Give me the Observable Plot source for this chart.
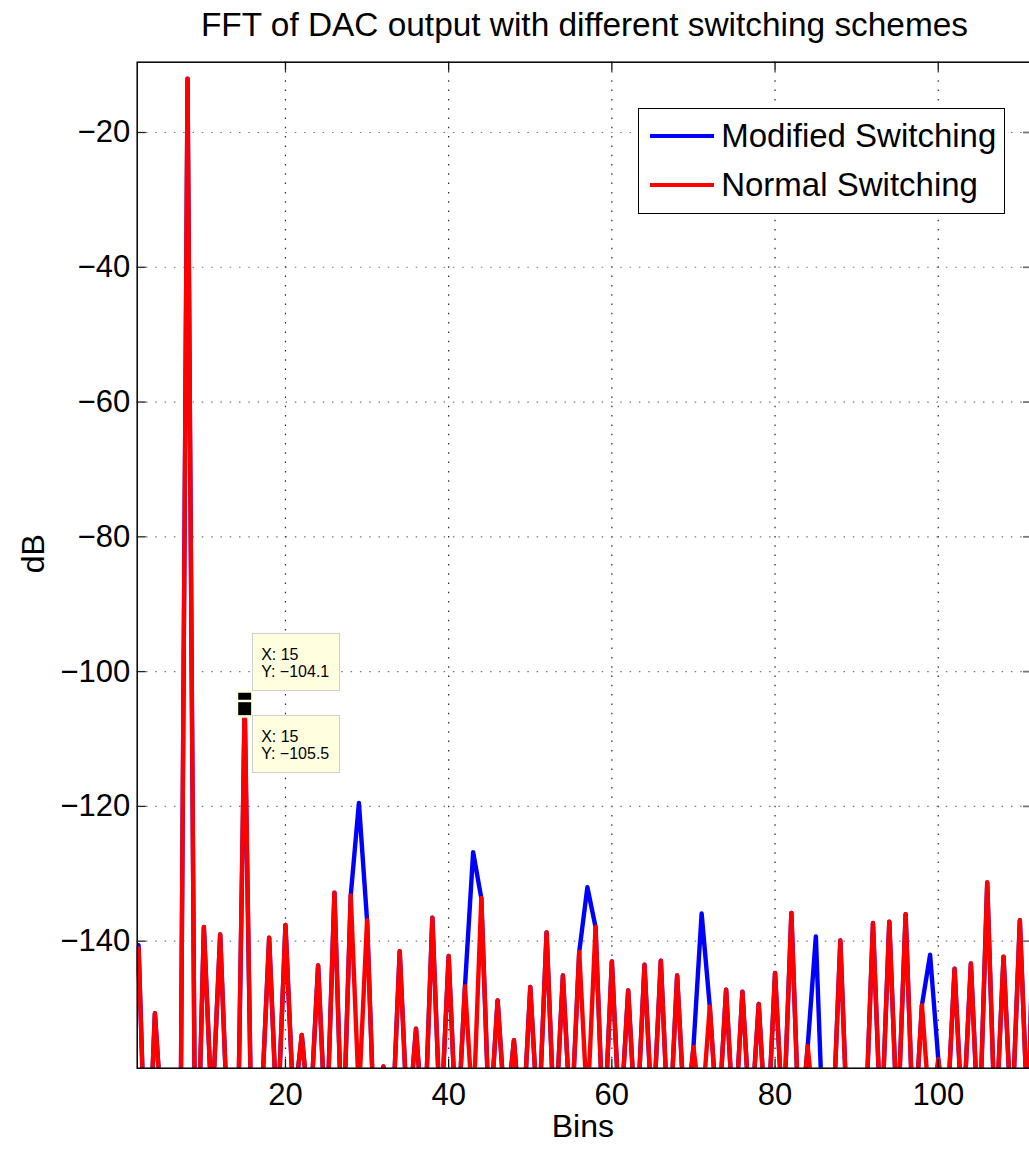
<!DOCTYPE html>
<html>
<head>
<meta charset="utf-8">
<script src="https://cdn.jsdelivr.net/npm/d3@7"></script>
<script src="https://cdn.jsdelivr.net/npm/@observablehq/plot@0.6"></script>
<style>
  html, body { margin: 0; padding: 0; background: #fff; overflow: hidden; }
  body { width: 1029px; height: 1149px; position: relative; font-family: "Liberation Sans", Arial, Helvetica, sans-serif; color: #000; }
  #title { position: absolute; top: 4.6px; left: 137px; width: 895px; height: 40px; line-height: 40px; font-size: 33.4px; text-align: center; white-space: nowrap; }
  #chart { position: absolute; top: 45px; left: 0; width: 1034px; }
  #chart svg { max-width: none !important; }
  .legend { position: absolute; left: 637.7px; top: 107.7px; width: 367.3px; height: 106.6px; box-sizing: border-box; border: 1.5px solid #000; background: #fff; }
  .legend .sw { position: absolute; left: 11.5px; width: 64px; height: 4px; }
  .legend .lt { position: absolute; left: 82.5px; font-size: 33px; line-height: 40px; white-space: nowrap; }
  .tipbox { position: absolute; width: 88px; box-sizing: border-box; background: #ffffe0; border: 1px solid #cfcfcf; font-size: 16px; line-height: 17px; padding: 12px 8px 10px 8px; white-space: nowrap; }
</style>
</head>
<body>
<div id="title">FFT of DAC output with different switching schemes</div>
<div id="chart"></div>
<script>
// ---- data ----
const bins = d3.range(1, 113);
const normalSwitching = [
  -150, -141.0, -180, -150.7, -169, -172, -195, -12.0, -185, -137.9,
  -166, -139.0, -170, -182, -104.1, -182, -166, -139.5, -168, -137.6,
  -165, -153.9, -167, -143.6, -170, -132.8, -172, -133.2, -163, -136.9,
  -172, -158.6, -170, -141.5, -168, -153.0, -170, -136.5, -168, -142.2,
  -170, -146.7, -166, -133.6, -168, -148.8, -167, -154.7, -170, -146.8,
  -168, -138.7, -169, -145.1, -168, -141.6, -165, -137.9, -170, -143.0,
  -168, -147.3, -169, -143.5, -168, -142.9, -170, -145.1, -168, -155.7,
  -166, -149.7, -168, -147.2, -169, -147.5, -168, -149.3, -170, -144.7,
  -168, -135.8, -170, -155.6, -168, -172, -170, -139.9, -172, -175,
  -170, -137.3, -169, -137.1, -168, -136.0, -170, -149.5, -166, -157.5,
  -168, -144.1, -168, -143.3, -170, -131.3, -169, -142.3, -168, -136.9,
  -168, -118
];
const modifiedSwitching = [
  -149, -140.6, -180, -150.7, -169, -172, -195, -12.0, -185, -137.9,
  -166, -139.0, -170, -182, -105.5, -182, -166, -139.5, -168, -137.6,
  -165, -153.9, -167, -143.6, -170, -132.8, -172, -133.2, -119.5, -136.9,
  -172, -158.6, -170, -141.5, -168, -153.0, -170, -136.5, -168, -142.2,
  -170, -146.7, -126.8, -133.6, -168, -148.8, -167, -154.7, -170, -146.8,
  -168, -138.7, -169, -145.1, -168, -141.6, -132.0, -137.9, -170, -143.0,
  -168, -147.3, -169, -143.5, -168, -142.9, -170, -145.1, -168, -155.7,
  -135.9, -149.7, -168, -147.2, -169, -147.5, -168, -149.3, -170, -144.7,
  -168, -135.8, -170, -155.6, -139.3, -172, -170, -139.9, -172, -175,
  -170, -137.3, -169, -137.1, -168, -136.0, -170, -149.5, -142.0, -157.5,
  -168, -144.1, -168, -143.3, -170, -131.3, -169, -142.3, -168, -136.9,
  -168, -118
];
const seriesNames = ["Modified Switching", "Normal Switching"];
const seriesColors = ["#0000ff", "#ff0000"];
const xTicks = [20, 40, 60, 80, 100];
const yTicks = [-140, -120, -100, -80, -60, -40, -20];
const xDomain = [1.83, 111.55];
const yDomain = [-158.85, -9.57];
const tipBin = [15, 15];
const tipValue = [-104.1, -105.5];

// ---- build ----
const rows = bins.map((b, i) => ({bin: b, modified: modifiedSwitching[i], normal: normalSwitching[i]}));
const tips = tipBin.map((b, i) => ({bin: b, value: tipValue[i]}));

const W = 1034, H = 1104, mL = 136.7, mR = 2, mT = 16.7, mB = 81.3;
const innerW = W - mL - mR, innerH = H - mT - mB;
const tickLen = 9;

const plot = Plot.plot({
  width: W, height: H,
  marginLeft: mL, marginRight: mR, marginTop: mT, marginBottom: mB,
  style: {fontFamily: '"Liberation Sans", Arial, Helvetica, sans-serif', fontSize: "31px", color: "#000", background: "transparent", overflow: "visible", maxWidth: "none"},
  x: {domain: xDomain, label: null},
  y: {domain: yDomain, label: null},
  marks: [
    Plot.gridX(xTicks, {stroke: "#000", strokeOpacity: 0.85, strokeWidth: 1.2, strokeDasharray: "1.5,7.8"}),
    Plot.gridY(yTicks, {stroke: "#777", strokeOpacity: 1, strokeWidth: 1.2, strokeDasharray: "1.5,7.8"}),
    Plot.line(rows, {x: "bin", y: "modified", stroke: seriesColors[0], strokeWidth: 4.4, strokeLinejoin: "round", strokeLinecap: "round", clip: true}),
    Plot.line(rows, {x: "bin", y: "normal", stroke: seriesColors[1], strokeWidth: 4.4, strokeLinejoin: "round", strokeLinecap: "round", clip: true}),
    Plot.frame({stroke: "#000", strokeWidth: 1.5}),
    Plot.tickY(yTicks, {y: d => d, insetRight: innerW - tickLen, stroke: "#222", strokeWidth: 1.3}),
    Plot.tickY(yTicks, {y: d => d, insetLeft: innerW - tickLen, stroke: "#777", strokeWidth: 1.8}),
    Plot.tickX(xTicks, {x: d => d, insetTop: innerH - tickLen, stroke: "#111", strokeWidth: 1.3}),
    Plot.tickX(xTicks, {x: d => d, insetBottom: innerH - tickLen, stroke: "#111", strokeWidth: 1.3}),
    Plot.axisX(xTicks, {tickSize: 0, tickPadding: 15, fontSize: 31, label: null}),
    Plot.axisY(yTicks, {tickSize: 0, tickPadding: 7, fontSize: 31, label: null}),
    Plot.dot(tips, {x: "bin", y: "value", symbol: "square", r: 7.3, fill: "#000", stroke: "#ffffe0", strokeWidth: 5, paintOrder: "stroke"}),
    Plot.text(["dB"], {frameAnchor: "left", dx: -103.7, dy: 8, rotate: -90, fontSize: 32, fill: "#000"}),
    Plot.text(["Bins"], {frameAnchor: "bottom", dx: -2, dy: 59, lineAnchor: "middle", fontSize: 32, fill: "#000"})
  ]
});
const chart = document.getElementById("chart");
chart.appendChild(plot);

// ---- data tips (positioned from the plot's scales) ----
const sx = plot.scale("x"), sy = plot.scale("y");
const top0 = 45;
tips.forEach((t, i) => {
  const div = document.createElement("div");
  div.className = "tipbox";
  div.innerHTML = `X: ${t.bin}<br>Y: ${d3.format(".1f")(t.value).replace("-", "\u2013")}`;
  const px = sx.apply(t.bin), py = sy.apply(t.value) + top0;
  div.style.left = (px + 8) + "px";
  document.body.appendChild(div);
  if (i === 0) {
    div.style.top = (py - 8 - div.offsetHeight) + "px";
  } else {
    div.style.top = (py + 7) + "px";
  }
});

// ---- legend ----
const legend = document.createElement("div");
legend.className = "legend";
seriesNames.forEach((name, i) => {
  const sw = document.createElement("div");
  sw.className = "sw";
  sw.style.background = seriesColors[i];
  sw.style.top = (25.5 + i * 49.3) + "px";
  legend.appendChild(sw);
  const lt = document.createElement("div");
  lt.className = "lt";
  lt.textContent = name;
  lt.style.top = (7.7 + i * 49) + "px";
  legend.appendChild(lt);
});
document.body.appendChild(legend);
</script>
</body>
</html>
